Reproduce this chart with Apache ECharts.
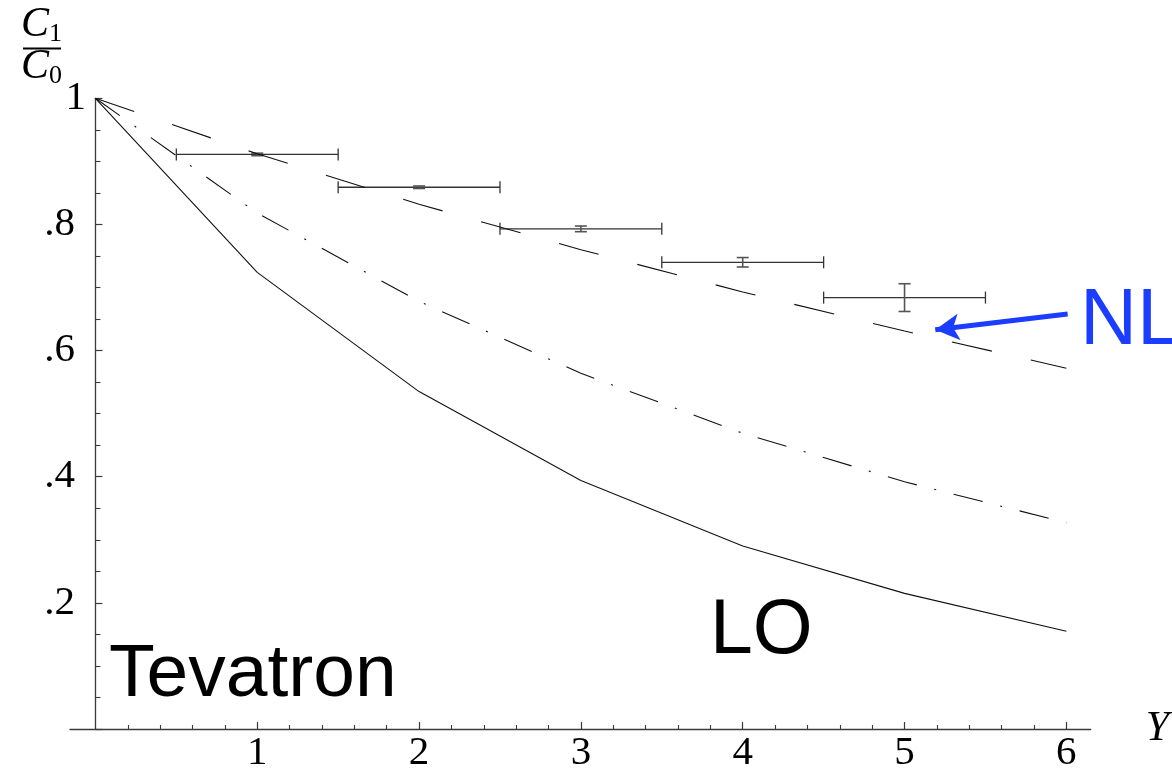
<!DOCTYPE html>
<html>
<head>
<meta charset="utf-8">
<script src="https://cdn.jsdelivr.net/npm/echarts@6/dist/echarts.min.js"></script>
<style>html,body{margin:0;padding:0;background:#fff;}#c{width:1172px;height:774px;}</style>
</head>
<body>
<div id="c"></div>
<script>
// Data
var xs = [0, 1, 2, 3, 4, 5, 6];
var loValues = [1, 0.724, 0.535, 0.394, 0.290, 0.215, 0.155];          // solid (LO)
var dashDotValues = [1, 0.818, 0.678, 0.564, 0.469, 0.392, 0.327];     // dash-dot
var dashedValues = [1, 0.912, 0.832, 0.760, 0.693, 0.631, 0.572];      // dashed (NLO)
var pointX = [1, 2, 3, 4, 5];
var pointY = [0.911, 0.859, 0.793, 0.740, 0.684];
var pointXErr = [0.5, 0.5, 0.5, 0.5, 0.5];
var pointYErr = [0.002, 0.002, 0.0045, 0.0075, 0.022];
var xTickLabels = [1, 2, 3, 4, 5, 6];
var xMinorTicks = [];
for (var i = 0; i < 6; i++) { for (var j = 1; j < 5; j++) { xMinorTicks.push(+(i + j * 0.2).toFixed(1)); } }
var yTickLabels = [0.2, 0.4, 0.6, 0.8, 1];
var arrowFrom = [6.008, 0.658];
var arrowTo = [5.19, 0.633];

function pairs(v) { return xs.map(function (x, k) { return [x, v[k]]; }); }

var serif = '"Liberation Serif", "DejaVu Serif", serif';
var sans = '"Liberation Sans", Arial, sans-serif';
var axisColor = '#3a3a3a';

var chart = echarts.init(document.getElementById('c'), null, { renderer: 'canvas' });
chart.setOption({
  animation: false,
  backgroundColor: '#fff',
  grid: { left: 70, right: 79, top: 98.3, bottom: 45 },
  xAxis: [{
    type: 'value', min: -0.157, max: 6.15,
    splitLine: { show: false },
    axisLine: { show: true, onZero: false, lineStyle: { color: axisColor, width: 1.3 } },
    axisTick: { show: true, inside: true, length: 7, customValues: xTickLabels, lineStyle: { color: axisColor, width: 1.2 } },
    axisLabel: { show: true, customValues: xTickLabels, margin: 4, color: '#000', fontFamily: serif, fontSize: 41 },
    name: 'Y', nameLocation: 'end', nameGap: 55,
    nameTextStyle: { fontFamily: serif, fontStyle: 'italic', fontSize: 42, color: '#000', verticalAlign: 'middle', padding: [0, 0, 14, 0] }
  }, {
    type: 'value', min: -0.157, max: 6.15, position: 'bottom',
    splitLine: { show: false },
    axisLine: { show: false, onZero: false },
    axisTick: { show: true, inside: true, length: 4, customValues: xMinorTicks, lineStyle: { color: axisColor, width: 1.1 } },
    axisLabel: { show: false }
  }],
  yAxis: {
    type: 'value', min: 0, max: 1, interval: 0.2,
    splitLine: { show: false },
    axisLine: { show: true, onZero: true, lineStyle: { color: axisColor, width: 1.3 } },
    axisTick: { show: true, inside: true, length: 7, lineStyle: { color: axisColor, width: 1.2 } },
    minorTick: { show: true, splitNumber: 4, length: 5, lineStyle: { color: axisColor, width: 1.1 } },
    axisLabel: {
      show: true, customValues: yTickLabels, margin: -16, color: '#000',
      formatter: function (v) {
        if (v >= 0.999) return '{n|1}';
        return '{n|' + String(+v.toFixed(1)).replace(/^0/, '') + '}{s|}';
      },
      rich: {
        n: { fontFamily: serif, fontSize: 41, color: '#000' },
        s: { width: 11 }
      }
    }
  },
  series: [{
    type: 'line', data: pairs(loValues), symbol: 'none', silent: true,
    lineStyle: { color: '#111', width: 1.1 }
  }, {
    type: 'line', data: pairs(dashDotValues), symbol: 'none', silent: true,
    lineStyle: { color: '#111', width: 1.1, type: [30, 18, 2, 18] }
  }, {
    type: 'line', data: pairs(dashedValues), symbol: 'none', silent: true,
    lineStyle: { color: '#111', width: 1.1, type: [41, 40] },
    markLine: {
      silent: true, symbol: ['none', 'arrow'], symbolSize: [20, 24], label: { show: false },
      lineStyle: { color: '#1a3dff', width: 5, type: 'solid' },
      data: [[{ coord: arrowFrom }, { coord: arrowTo }]]
    }
  }, {
    type: 'custom', silent: true,
    data: pointX.map(function (x, k) { return [x, pointY[k], pointXErr[k], pointYErr[k]]; }),
    renderItem: function (params, api) {
      var x = api.value(0), y = api.value(1), ex = api.value(2), ey = api.value(3);
      var l = api.coord([x - ex, y]), r = api.coord([x + ex, y]);
      var t = api.coord([x, y + ey]), b = api.coord([x, y - ey]);
      var cap = 6, vcap = 6;
      var st = { stroke: '#333', lineWidth: 1.3 };
      var st2 = { stroke: '#555', lineWidth: 1.6 };
      return { type: 'group', children: [
        { type: 'line', shape: { x1: l[0], y1: l[1], x2: r[0], y2: r[1] }, style: st },
        { type: 'line', shape: { x1: l[0], y1: l[1] - cap, x2: l[0], y2: l[1] + cap }, style: st },
        { type: 'line', shape: { x1: r[0], y1: r[1] - cap, x2: r[0], y2: r[1] + cap }, style: st },
        { type: 'line', shape: { x1: t[0], y1: t[1], x2: b[0], y2: b[1] }, style: st2 },
        { type: 'line', shape: { x1: t[0] - vcap, y1: t[1], x2: t[0] + vcap, y2: t[1] }, style: st2 },
        { type: 'line', shape: { x1: b[0] - vcap, y1: b[1], x2: b[0] + vcap, y2: b[1] }, style: st2 }
      ]};
    }
  }],
  graphic: [
    { type: 'text', left: 21, top: 4, style: { text: '{c|C}{s|1}', rich: { c: { fontFamily: serif, fontStyle: 'italic', fontSize: 42, fill: '#000' }, s: { fontFamily: serif, fontSize: 26, fill: '#000', padding: [18, 0, 0, 0] } } } },
    { type: 'line', shape: { x1: 23, y1: 48.5, x2: 61, y2: 48.5 }, style: { stroke: '#000', lineWidth: 2 } },
    { type: 'text', left: 21, top: 46, style: { text: '{c|C}{s|0}', rich: { c: { fontFamily: serif, fontStyle: 'italic', fontSize: 42, fill: '#000' }, s: { fontFamily: serif, fontSize: 26, fill: '#000', padding: [18, 0, 0, 0] } } } },
    { type: 'text', x: 109, y: 675, style: { text: 'Tevatron', fontFamily: sans, fontSize: 75, fill: '#000', verticalAlign: 'middle', align: 'left' } },
    { type: 'text', x: 710, y: 632, style: { text: 'LO', fontFamily: sans, fontSize: 77, fill: '#000', verticalAlign: 'middle', align: 'left' } },
    { type: 'text', x: 1080, y: 322, style: { text: 'NLO', fontFamily: sans, fontSize: 79, fill: '#1a3dff', verticalAlign: 'middle', align: 'left' } }
  ]
});
</script>
</body>
</html>
